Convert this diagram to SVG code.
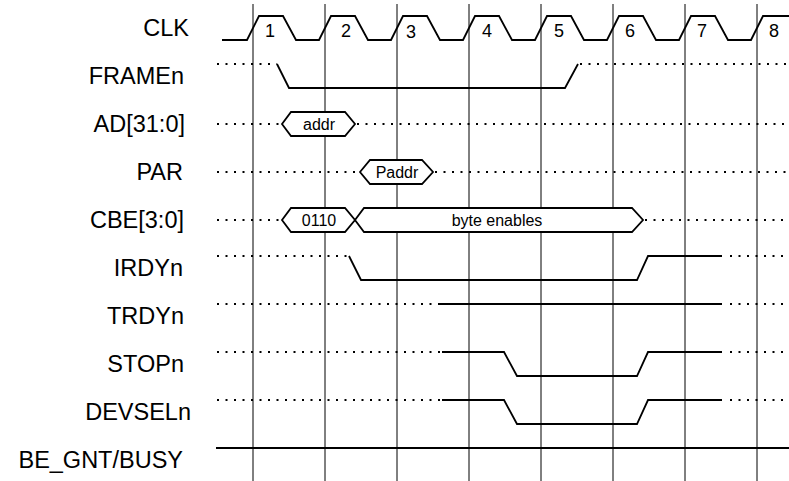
<svg xmlns="http://www.w3.org/2000/svg" width="789" height="481" viewBox="0 0 789 481">
<style>
.bg{fill:#fff}
.grid{stroke:#000;stroke-width:1;fill:none}
.w{stroke:#000;stroke-width:1.8;fill:none;stroke-linejoin:miter}
.hex{stroke:#000;stroke-width:1.8;fill:#fff}
.dot{stroke:#000;stroke-width:1.8;fill:none;stroke-dasharray:2 6.5}
.lbl{font-family:"Liberation Sans",Arial,sans-serif;font-size:23.5px;fill:#000;text-anchor:end}
.num{font-family:"Liberation Sans",Arial,sans-serif;font-size:18px;fill:#000;text-anchor:middle}
.in{font-family:"Liberation Sans",Arial,sans-serif;font-size:16px;fill:#000;text-anchor:middle}
</style>
<rect class="bg" x="0" y="0" width="789" height="481"/>
<g id="grid">
<line class="grid" x1="253" y1="4" x2="253" y2="481"/>
<line class="grid" x1="325" y1="4" x2="325" y2="481"/>
<line class="grid" x1="397" y1="4" x2="397" y2="481"/>
<line class="grid" x1="469" y1="4" x2="469" y2="481"/>
<line class="grid" x1="541" y1="4" x2="541" y2="481"/>
<line class="grid" x1="613" y1="4" x2="613" y2="481"/>
<line class="grid" x1="685" y1="4" x2="685" y2="481"/>
<line class="grid" x1="757" y1="4" x2="757" y2="481"/>
</g>
<g id="labels">
<text class="lbl" x="189" y="36">CLK</text>
<text class="lbl" x="184" y="84">FRAMEn</text>
<text class="lbl" x="185" y="132">AD[31:0]</text>
<text class="lbl" x="183" y="180">PAR</text>
<text class="lbl" x="184" y="228">CBE[3:0]</text>
<text class="lbl" x="183" y="276">IRDYn</text>
<text class="lbl" x="184" y="324">TRDYn</text>
<text class="lbl" x="184" y="372">STOPn</text>
<text class="lbl" x="191" y="420">DEVSELn</text>
<text class="lbl" x="183" y="468">BE_GNT/BUSY</text>
</g>
<g id="clk">
<path class="w" d="M222,40 L247,40 L259,16 L283,16 L296,40 L319,40 L331,16 L355,16 L368,40 L391,40 L403,16 L427,16 L440,40 L463,40 L475,16 L499,16 L512,40 L535,40 L547,16 L571,16 L584,40 L607,40 L619,16 L643,16 L656,40 L679,40 L691,16 L715,16 L728,40 L751,40 L763,16 L789,16"/>
<text class="num" x="270" y="37">1</text>
<text class="num" x="346" y="37">2</text>
<text class="num" x="411" y="38">3</text>
<text class="num" x="487" y="37">4</text>
<text class="num" x="559" y="37">5</text>
<text class="num" x="630" y="37">6</text>
<text class="num" x="702" y="37">7</text>
<text class="num" x="774" y="37">8</text>
</g>
<g id="framen">
<path class="dot" d="M217,64 L277,64"/>
<path class="w" d="M277,64 L289,88 L565,88 L578,64"/>
<path class="dot" d="M580,64 L789,64"/>
</g>
<g id="ad">
<path class="dot" d="M217,124 L282,124"/>
<path class="hex" d="M282,124 L291,112 L345,112 L355,124 L345,136 L291,136 Z"/>
<text class="in" x="319" y="130">addr</text>
<path class="dot" d="M357,124 L789,124"/>
</g>
<g id="par">
<path class="dot" d="M217,172 L360,172"/>
<path class="hex" d="M360,172 L370,160 L422,160 L433,172 L422,184 L370,184 Z"/>
<text class="in" x="397" y="178">Paddr</text>
<path class="dot" d="M435,172 L789,172"/>
</g>
<g id="cbe">
<path class="dot" d="M217,220 L282,220"/>
<path class="hex" d="M282,220 L291,208 L345,208 L355,220 L345,232 L291,232 Z"/>
<path class="hex" d="M355,220 L364,208 L632,208 L643,220 L632,232 L364,232 Z"/>
<text class="in" x="319" y="226">0110</text>
<text class="in" x="497" y="226">byte enables</text>
<path class="dot" d="M645,220 L789,220"/>
</g>
<g id="irdyn">
<path class="dot" d="M217,256 L349,256"/>
<path class="w" d="M349,256 L361,280 L637,280 L648,256 L722,256"/>
<path class="dot" d="M730,256 L789,256"/>
</g>
<g id="trdyn">
<path class="dot" d="M217,304 L437,304"/>
<path class="w" d="M438,304 L722,304"/>
<path class="dot" d="M730,304 L789,304"/>
</g>
<g id="stopn">
<path class="dot" d="M217,352 L441,352"/>
<path class="w" d="M442,352 L504,352 L517,376 L637,376 L648,352 L722,352"/>
<path class="dot" d="M730,352 L789,352"/>
</g>
<g id="devseln">
<path class="dot" d="M217,400 L441,400"/>
<path class="w" d="M442,400 L504,400 L517,424 L637,424 L648,400 L722,400"/>
<path class="dot" d="M730,400 L789,400"/>
</g>
<g id="be_gnt">
<path class="w" d="M216,448 L789,448"/>
</g>
</svg>
